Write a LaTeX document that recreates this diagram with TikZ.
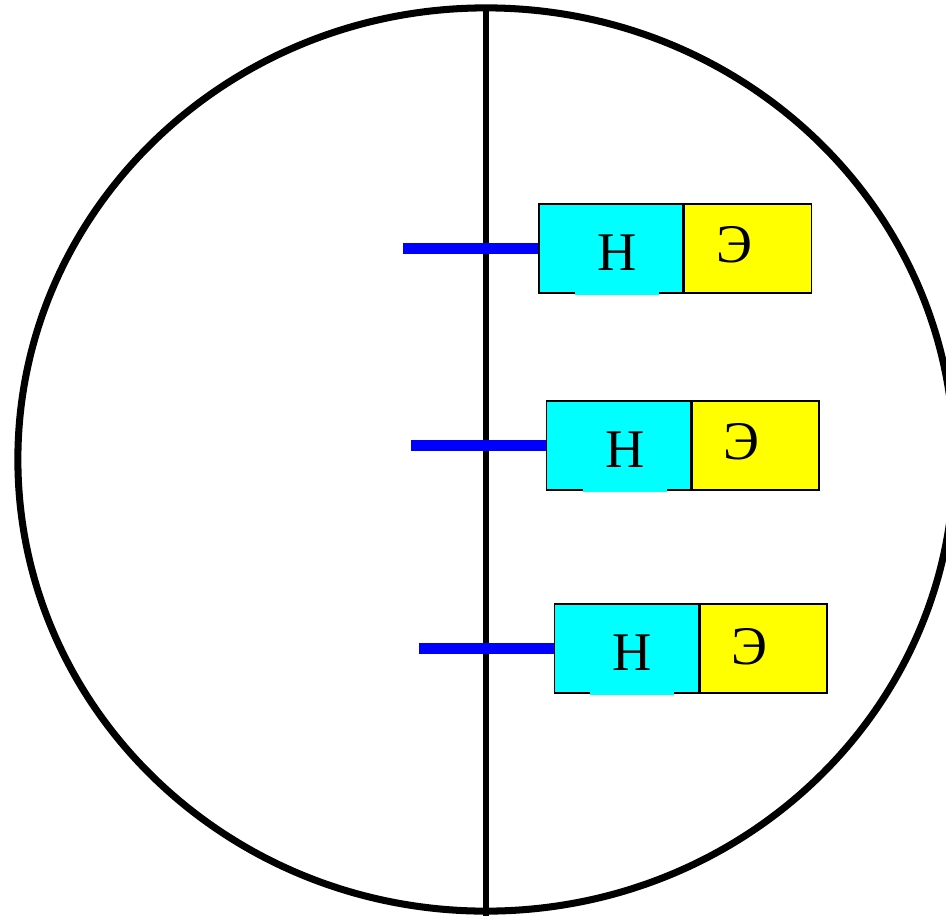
\documentclass[tikz,border=0pt]{standalone}
\usepackage{fontspec}
\setmainfont{Liberation Serif}
\usepackage{tikz}
\usetikzlibrary{positioning}
\definecolor{aqua}{RGB}{0,255,255}
\definecolor{lemon}{RGB}{255,255,0}
\definecolor{pureblue}{RGB}{0,0,255}

\begin{document}
\begin{tikzpicture}[
    x=0.025cm, y=-0.025cm,
    rim/.style={draw=black, line width=5pt},
    axis/.style={draw=black, line width=4.6pt},
    nbox/.style={
        rectangle, draw=black, fill=aqua, line width=1pt,
        minimum width=3.6cm, minimum height=2.225cm, inner sep=0pt
    },
    ebox/.style={
        rectangle, draw=black, fill=lemon, line width=1pt,
        minimum width=3.175cm, minimum height=2.225cm, inner sep=0pt
    },
    nlbl/.style={
        fill=aqua, anchor=south, minimum width=2.1cm,
        inner xsep=0pt, inner ysep=0.6125cm, text depth=0pt,
        font=\fontsize{38.7}{40}\selectfont
    },
    elbl/.style={anchor=base, inner sep=0pt, font=\fontsize{38.7}{40}\selectfont},
    bar/.style={draw=pureblue, line width=7.4pt}
]
\useasboundingbox (0,0) rectangle (946,915);

% cell and membrane
\draw[rim] (486,459.5) ellipse [x radius=11.7cm, y radius=11.2875cm];
\coordinate (mtop) at (486,8);
\coordinate (mbot) at (486,925);
\draw[axis] (mtop) -- (mbot);

% receptors
\node[nbox] (n1) at (611,248.5) {};
\node[ebox, right=0pt of n1] (e1) {};
\node[nlbl] (h1) at (617,295.5) {Н\hspace{0.3cm}};
\node[elbl] (l1) at (734,262) {Э};

\node[nbox] (n2) at (618.5,445.5) {};
\node[ebox, right=0pt of n2] (e2) {};
\node[nlbl] (h2) at (625,492.5) {Н\hspace{0.3cm}};
\node[elbl] (l2) at (741,459) {Э};

\node[nbox] (n3) at (626.5,648.5) {};
\node[ebox, right=0pt of n3] (e3) {};
\node[nlbl] (h3) at (632,695.5) {Н\hspace{0.3cm}};
\node[elbl] (l3) at (749,664) {Э};

% anchors
\coordinate (s1) at (403,248.5);
\coordinate (s2) at (411,445.5);
\coordinate (s3) at (419,648.5);
\draw[bar] (s1) -- (n1.west);
\draw[bar] (s2) -- (n2.west);
\draw[bar] (s3) -- (n3.west);
\end{tikzpicture}
\end{document}
